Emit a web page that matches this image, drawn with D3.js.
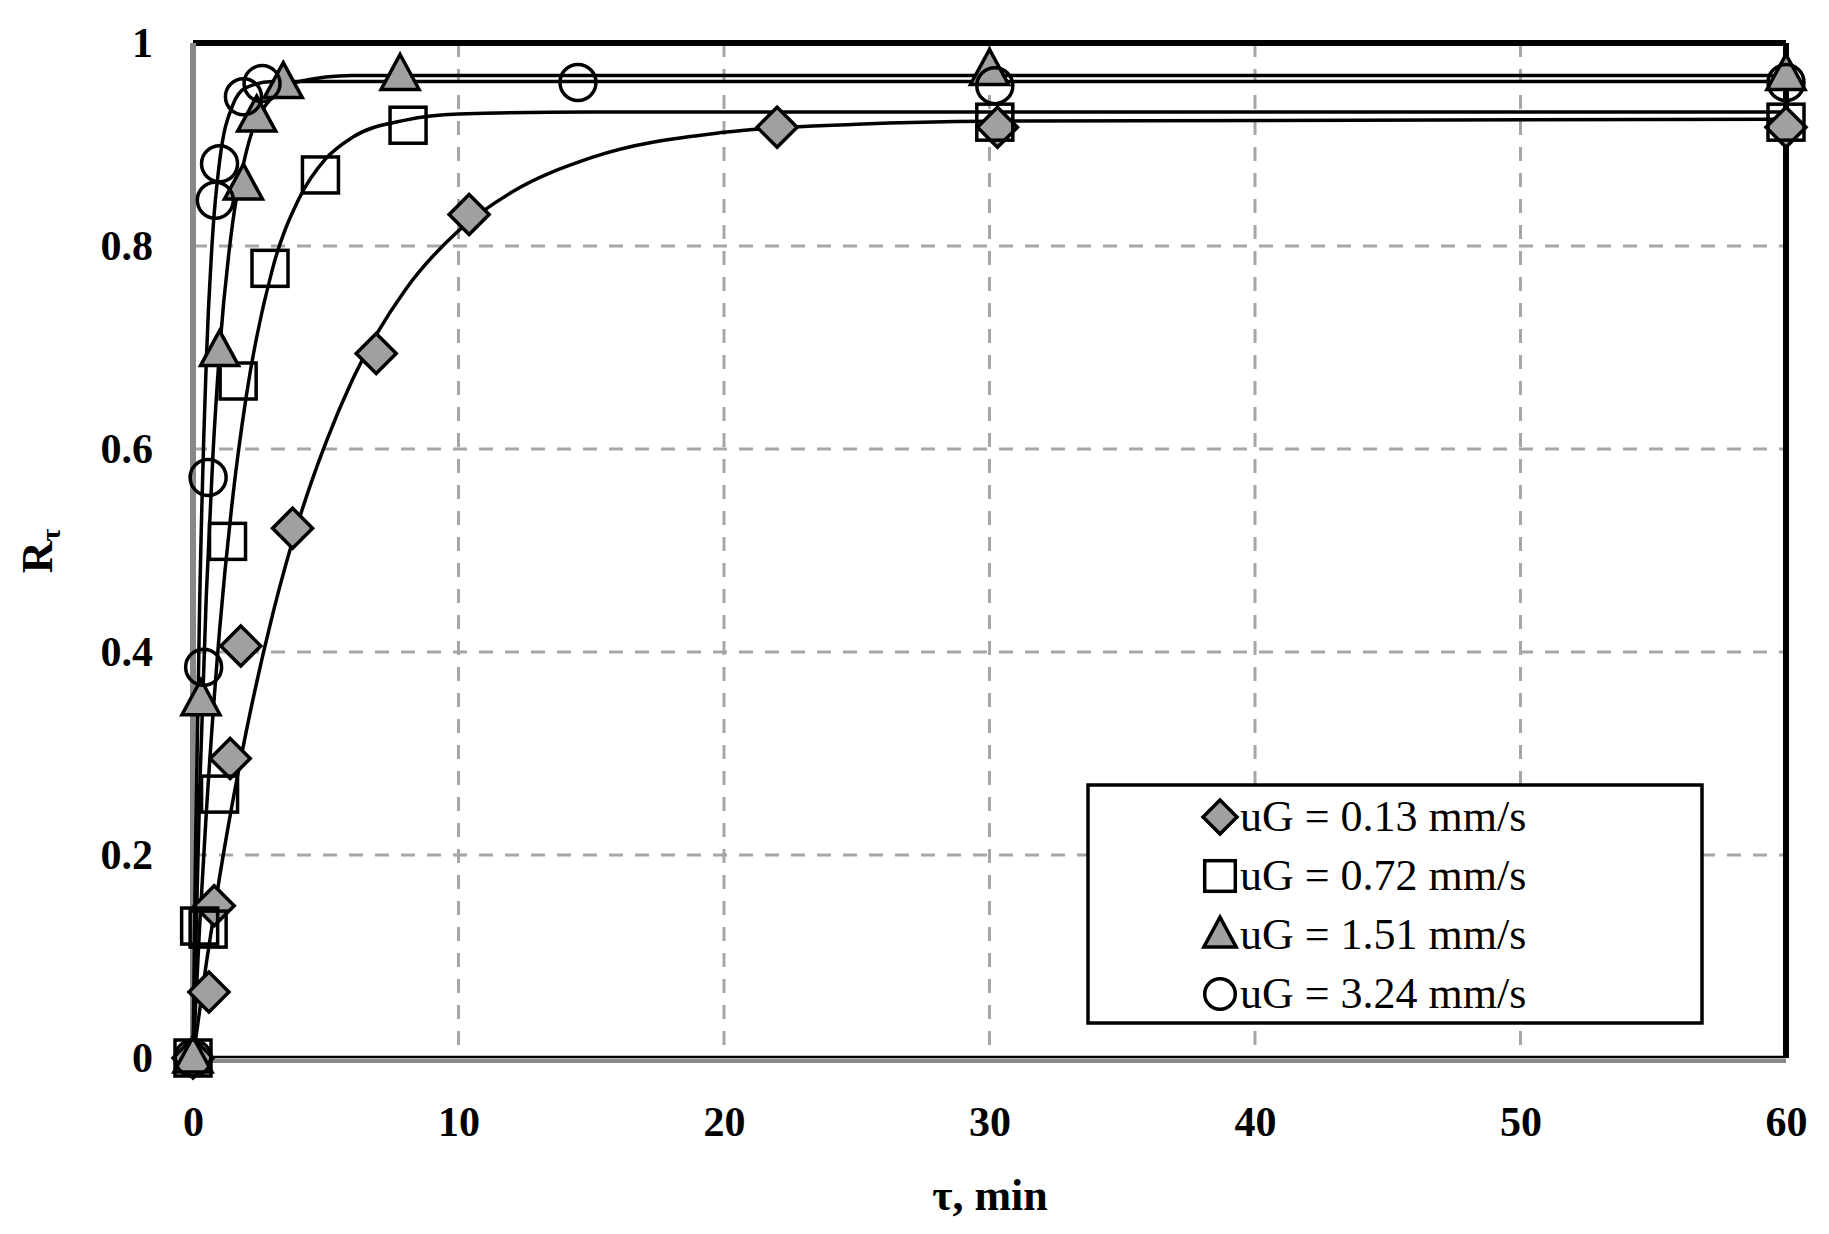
<!DOCTYPE html>
<html><head><meta charset="utf-8">
<script src="https://cdn.jsdelivr.net/npm/d3@7"></script>
<style>body{margin:0;background:#fff}</style></head>
<body><svg id="c" width="1829" height="1234"></svg>
<script>
const xTicks=[0,10,20,30,40,50,60];
const yTicks=[0,0.2,0.4,0.6,0.8,1];
const yTickLabels=["0","0.2","0.4","0.6","0.8","1"];
const seriesNames=["uG = 0.13 mm/s","uG = 0.72 mm/s","uG = 1.51 mm/s","uG = 3.24 mm/s"];
const symbols=["diamond","square","triangle","circle"];
// measured points
const d013x=[0,0.6,0.8,1.4,1.8,3.75,6.9,10.4,22,30.3,60];
const d013y=[0,0.065,0.15,0.295,0.406,0.522,0.694,0.831,0.917,0.917,0.917];
const d072x=[0,0.25,0.57,1,1.3,1.7,2.9,4.8,8.1,30.2,60];
const d072y=[0,0.13,0.127,0.26,0.509,0.667,0.778,0.87,0.919,0.922,0.922];
const d151x=[0,0.3,1,1.9,2.4,3.4,7.8,30,60];
const d151y=[0,0.352,0.696,0.86,0.927,0.96,0.968,0.973,0.968];
const d324x=[0,0.4,0.57,0.84,1.0,1.9,2.6,14.5,30.2,60];
const d324y=[0,0.385,0.572,0.845,0.881,0.947,0.96,0.961,0.958,0.961];
// trend curves
const c013x=[0,0.5,1,2,3,4,5,6,8,10,12,15,20,25,30,60];
const c013y=[0,0.093,0.178,0.321,0.437,0.531,0.606,0.668,0.757,0.815,0.853,0.887,0.912,0.920,0.923,0.925];
const c072x=[0,0.25,0.5,1,1.5,2,3,4,5,6,8,10,15,60];
const c072y=[0,0.13,0.241,0.421,0.553,0.651,0.778,0.847,0.886,0.907,0.924,0.93,0.932,0.932];
const c151x=[0,0.25,0.5,0.75,1,1.5,2,3,4,6,60];
const c151y=[0,0.263,0.455,0.594,0.696,0.824,0.892,0.947,0.962,0.968,0.968];
const c324x=[0,0.1,0.25,0.5,0.75,1,1.5,2,3,60];
const c324y=[0,0.213,0.447,0.686,0.815,0.883,0.939,0.956,0.962,0.962];

const pts=[[d013x,d013y],[d072x,d072y],[d151x,d151y],[d324x,d324y]];
const curves=[[c013x,c013y],[c072x,c072y],[c151x,c151y],[c324x,c324y]];

const L=193,R=1786,T=43,B=1058;
const svg=d3.select("#c");
const x=d3.scaleLinear().domain([0,60]).range([L,R]);
const y=d3.scaleLinear().domain([0,1]).range([B,T]);
const grey="#a0a0a0";
svg.append("g").selectAll("line").data(xTicks.slice(1,-1)).join("line")
 .attr("x1",d=>x(d)).attr("x2",d=>x(d)).attr("y1",T).attr("y2",B)
 .attr("stroke","#a6a6a6").attr("stroke-width",3).attr("stroke-dasharray","14,12");
svg.append("g").selectAll("line").data(yTicks.slice(1,-1)).join("line")
 .attr("x1",L).attr("x2",R).attr("y1",d=>y(d)).attr("y2",d=>y(d))
 .attr("stroke","#a6a6a6").attr("stroke-width",3).attr("stroke-dasharray","14,12");
svg.append("line").attr("x1",L).attr("x2",R).attr("y1",T).attr("y2",T).attr("stroke","#000").attr("stroke-width",6);
svg.append("line").attr("x1",R).attr("x2",R).attr("y1",T).attr("y2",B).attr("stroke","#000").attr("stroke-width",6);
svg.append("line").attr("x1",L).attr("x2",L).attr("y1",T).attr("y2",B).attr("stroke","#888").attr("stroke-width",6);
svg.append("line").attr("x1",L).attr("x2",R).attr("y1",B+3).attr("y2",B+3).attr("stroke","#888").attr("stroke-width",4);
svg.append("line").attr("x1",L).attr("x2",R).attr("y1",B-1).attr("y2",B-1).attr("stroke","#000").attr("stroke-width",2.5);
const font="'Liberation Serif','Times New Roman',serif";
const xa=svg.append("g").attr("transform",`translate(0,${B})`)
 .call(d3.axisBottom(x).tickValues(xTicks).tickSize(0).tickPadding(48));
const ya=svg.append("g").attr("transform",`translate(${L},0)`)
 .call(d3.axisLeft(y).tickValues(yTicks).tickFormat((d,i)=>yTickLabels[i]).tickSize(0).tickPadding(40));
[xa,ya].forEach(a=>{a.select(".domain").remove();a.selectAll("text").attr("font-family",font).attr("font-weight","bold").attr("font-size",42).attr("fill","#000");});
svg.append("text").attr("x",990).attr("y",1210).attr("text-anchor","middle").attr("font-family",font).attr("font-weight","bold").attr("font-size",44).text("τ, min");
const yl=svg.append("text").attr("transform","translate(52,551) rotate(-90)").attr("text-anchor","middle").attr("font-family",font).attr("font-weight","bold").attr("font-size",44);
yl.append("tspan").text("R");yl.append("tspan").attr("font-size",28).attr("dy",8).text("τ");
const line=d3.line().x(d=>x(d[0])).y(d=>y(d[1])).curve(d3.curveMonotoneX);
curves.forEach(c=>{
 svg.append("path").datum(c[0].map((v,i)=>[v,c[1][i]])).attr("d",line).attr("fill","none").attr("stroke","#000").attr("stroke-width",3.5);
});
function mark(g,type,cx,cy,s){
 s=s||1;
 if(type==="diamond") g.append("path").attr("d",`M${cx},${cy-20*s}L${cx+20*s},${cy}L${cx},${cy+20*s}L${cx-20*s},${cy}Z`).attr("fill",grey).attr("stroke","#000").attr("stroke-width",3.5);
 if(type==="square") g.append("rect").attr("x",cx-18*s).attr("y",cy-18*s).attr("width",36*s).attr("height",36*s).attr("fill","none").attr("stroke","#000").attr("stroke-width",3.5);
 if(type==="triangle") g.append("path").attr("d",`M${cx},${cy-21*s}L${cx+19*s},${cy+14*s}L${cx-19*s},${cy+14*s}Z`).attr("fill",grey).attr("stroke","#000").attr("stroke-width",3.5);
 if(type==="circle") g.append("circle").attr("cx",cx).attr("cy",cy).attr("r",18*s).attr("fill","none").attr("stroke","#000").attr("stroke-width",3.5);
}
const mg=svg.append("g");
pts.forEach((p,s)=>p[0].forEach((v,i)=>mark(mg,symbols[s],x(v),y(p[1][i]))));
svg.append("rect").attr("x",1088).attr("y",785).attr("width",614).attr("height",238).attr("fill","#fff").attr("stroke","#000").attr("stroke-width",3.5);
seriesNames.forEach((n,i)=>{
 const yy=817+i*59;
 mark(svg,symbols[i],1220,yy,0.85);
 svg.append("text").attr("x",1240).attr("y",yy+14).attr("font-family",font).attr("font-size",44).text(n);
});
</script></body></html>
